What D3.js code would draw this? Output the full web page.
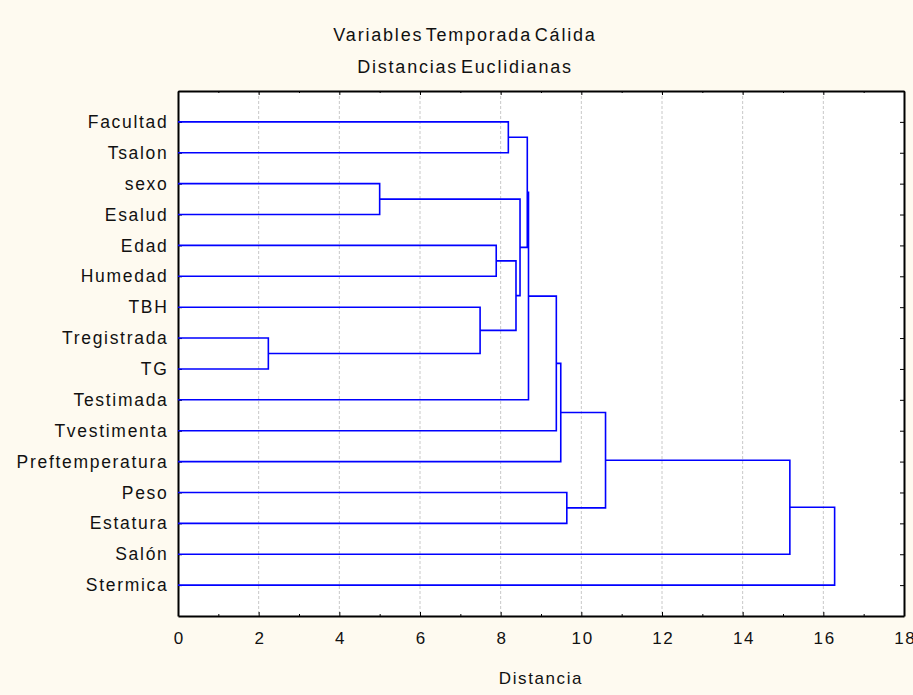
<!DOCTYPE html>
<html>
<head>
<meta charset="utf-8">
<script src="https://cdn.jsdelivr.net/npm/d3@7"></script>
<style>
  body { margin: 0; background: #fefaf0; }
  text { font-family: "Liberation Sans", Arial, sans-serif; fill: #111; }
  .axis text { font-size: 17px; letter-spacing: 1.6px; fill: #111; }
  .axis.names text { font-size: 17.5px; letter-spacing: 1.7px; }
  .axis path, .axis line { stroke: #000; }
</style>
</head>
<body>
<div id="chart"></div>
<script>
// leaves, top to bottom
var leafNames = ["Facultad", "Tsalon", "sexo", "Esalud", "Edad", "Humedad", "TBH",
  "Tregistrada", "TG", "Testimada", "Tvestimenta", "Preftemperatura", "Peso",
  "Estatura", "Salón", "Stermica"];

// joins: each new node gets id 16, 17, ... in this order
var mergePairs = [[7, 8], [2, 3], [6, 16], [4, 5], [0, 1], [19, 18], [17, 21],
  [20, 22], [23, 9], [24, 10], [25, 11], [12, 13], [26, 27], [28, 14], [29, 15]];
var mergeDist = [2.24, 5.00, 7.49, 7.89, 8.19, 8.38, 8.48, 8.66, 8.69, 9.38,
  9.49, 9.64, 10.6, 15.17, 16.28];

var xMajor = [0, 2, 4, 6, 8, 10, 12, 14, 16, 18];
var xMinor = [1, 3, 5, 7, 9, 11, 13, 15, 17];

var width = 913, height = 695;
var plotLeft = 178, plotRight = 904, plotTop = 91, plotBottom = 616;

var svg = d3.select("#chart").append("svg")
    .attr("width", width)
    .attr("height", height);

svg.append("rect")
    .attr("width", width).attr("height", height)
    .attr("fill", "#fefaf0");

var x = d3.scaleLinear().domain([0, 18]).range([plotLeft, plotRight]);
var y = d3.scaleLinear().domain([0, leafNames.length + 1]).range([plotTop, plotBottom]);

// plot area
svg.append("rect")
    .attr("x", plotLeft).attr("y", plotTop)
    .attr("width", plotRight - plotLeft).attr("height", plotBottom - plotTop)
    .attr("fill", "#fff");

// grid
svg.append("g").selectAll("line")
    .data(xMajor.slice(1, -1))
    .enter().append("line")
    .attr("x1", d => x(d)).attr("x2", d => x(d))
    .attr("y1", plotTop).attr("y2", plotBottom)
    .attr("stroke", "#c8c8c8")
    .attr("stroke-width", 1)
    .attr("stroke-dasharray", "3,2");

// axes
svg.append("g").attr("class", "axis")
    .attr("transform", "translate(0," + plotBottom + ")")
    .call(d3.axisBottom(x).tickValues(xMajor).tickSize(-4).tickSizeOuter(0).tickPadding(16))
    .call(g => g.selectAll("text").attr("dx", "0.8px"));

svg.append("g").attr("class", "axis")
    .attr("transform", "translate(0," + plotBottom + ")")
    .call(d3.axisBottom(x).tickValues(xMinor).tickSize(-2).tickSizeOuter(0).tickFormat(""))
    .call(g => g.select(".domain").remove());

svg.append("g").attr("class", "axis")
    .attr("transform", "translate(0," + plotTop + ")")
    .call(d3.axisTop(x).tickValues(xMajor).tickSize(-4).tickSizeOuter(0).tickFormat(""));

svg.append("g").attr("class", "axis")
    .attr("transform", "translate(0," + plotTop + ")")
    .call(d3.axisTop(x).tickValues(xMinor).tickSize(-2).tickSizeOuter(0).tickFormat(""))
    .call(g => g.select(".domain").remove());

svg.append("g").attr("class", "axis names")
    .attr("transform", "translate(" + plotLeft + ",0)")
    .call(d3.axisLeft(y).tickValues(d3.range(1, leafNames.length + 1))
        .tickSize(-4).tickSizeOuter(0).tickPadding(9.5)
        .tickFormat(d => leafNames[d - 1]));

svg.append("g").attr("class", "axis")
    .attr("transform", "translate(" + plotRight + ",0)")
    .call(d3.axisRight(y).tickValues(d3.range(1, leafNames.length + 1))
        .tickSize(-4).tickSizeOuter(0).tickFormat(""));

svg.selectAll(".axis .domain").attr("stroke-width", 2);

// node positions
var nodeX = [], nodeY = [];
leafNames.forEach(function(d, i) {
    nodeX[i] = x(0);
    nodeY[i] = y(i + 1);
});

var links = [];
mergePairs.forEach(function(p, k) {
    var id = leafNames.length + k;
    var a = p[0], b = p[1];
    nodeX[id] = x(mergeDist[k]);
    nodeY[id] = (nodeY[a] + nodeY[b]) / 2;
    links.push("M" + nodeX[a] + "," + nodeY[a] +
        "H" + nodeX[id] + "V" + nodeY[b] + "H" + nodeX[b]);
});

svg.append("g").selectAll("path")
    .data(links)
    .enter().append("path")
    .attr("d", d => d)
    .attr("fill", "none")
    .attr("stroke", "#0000ff")
    .attr("stroke-width", 1.6);

// titles
svg.append("text")
    .attr("x", 465).attr("y", 41)
    .attr("text-anchor", "middle")
    .style("font-size", "18px")
    .style("letter-spacing", "1.8px")
    .style("word-spacing", "-4px")
    .text("Variables Temporada Cálida");

svg.append("text")
    .attr("x", 465).attr("y", 73)
    .attr("text-anchor", "middle")
    .style("font-size", "18px")
    .style("letter-spacing", "1.8px")
    .style("word-spacing", "-4px")
    .text("Distancias Euclidianas");

svg.append("text")
    .attr("x", (plotLeft + plotRight) / 2).attr("y", 684)
    .attr("text-anchor", "middle")
    .style("font-size", "17px")
    .style("letter-spacing", "1.6px")
    .text("Distancia");
</script>
</body>
</html>
